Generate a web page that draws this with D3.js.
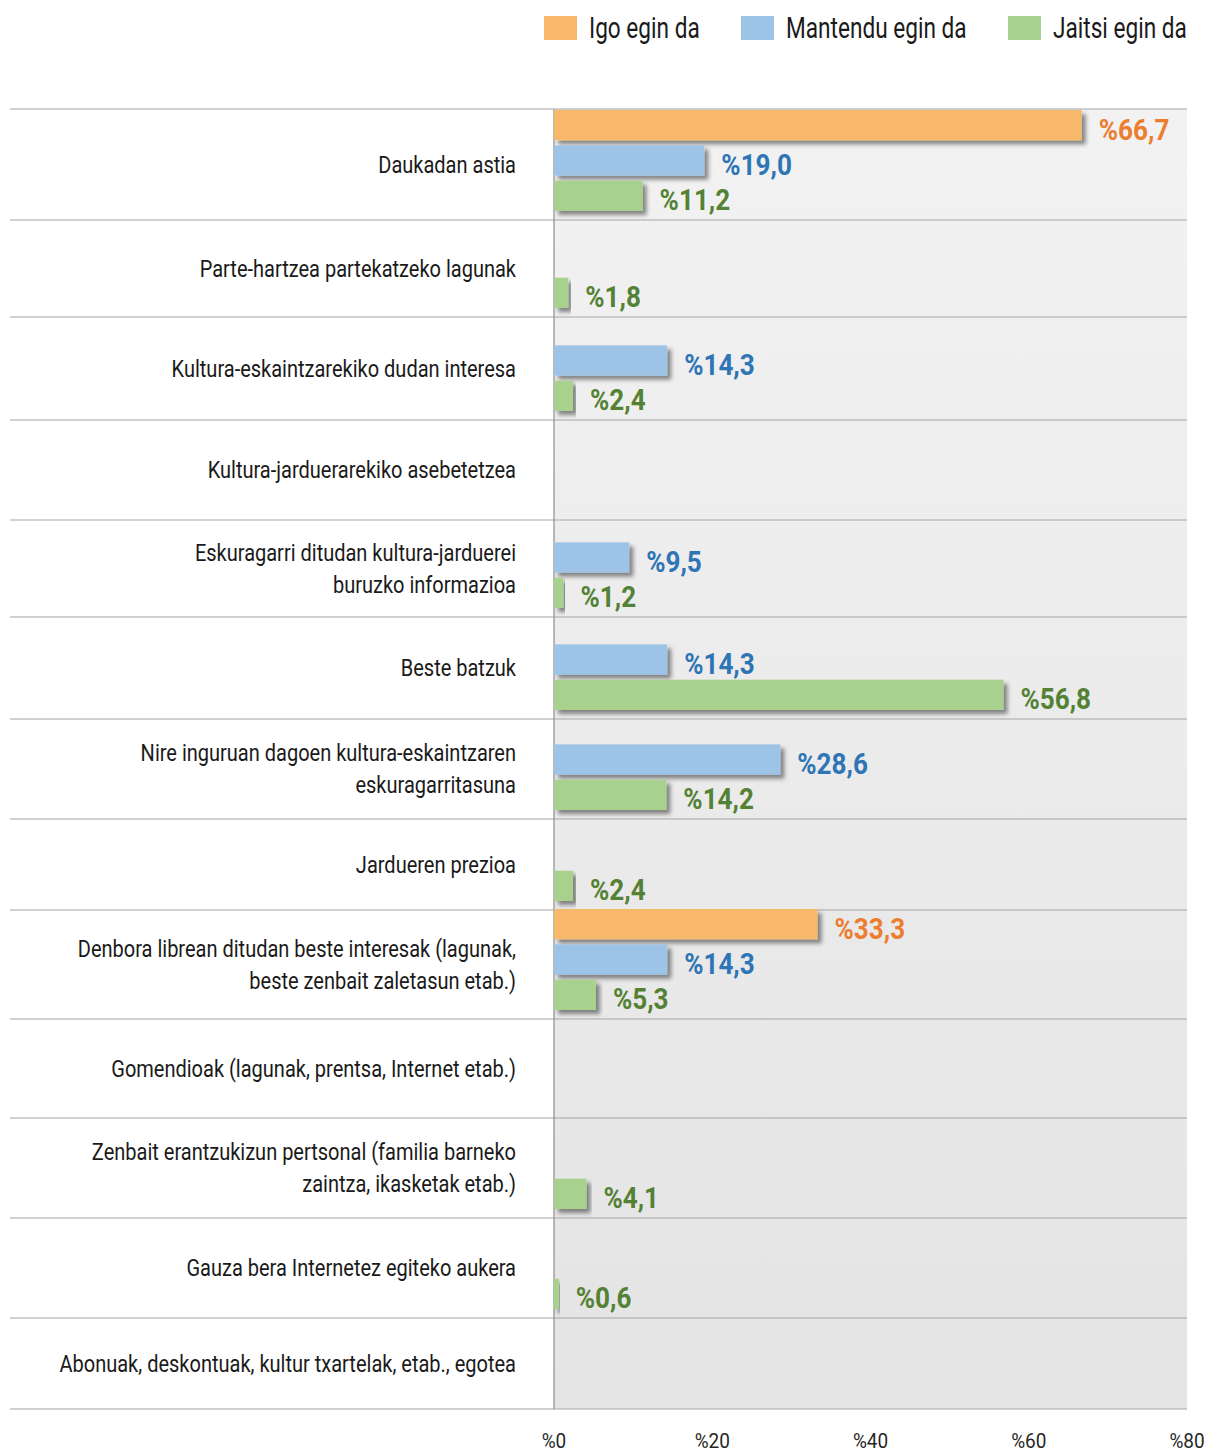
<!DOCTYPE html>
<html>
<head>
<meta charset="utf-8">
<script src="https://cdn.jsdelivr.net/npm/d3@7"></script>
<style>
  body { margin: 0; background: #fff; }
  text { font-family: Roboto, "Liberation Sans", sans-serif; }
</style>
</head>
<body>
<div id="chart"></div>
<script>
// categories (top to bottom)
const categories = [
  ["Daukadan astia"],
  ["Parte-hartzea partekatzeko lagunak"],
  ["Kultura-eskaintzarekiko dudan interesa"],
  ["Kultura-jarduerarekiko asebetetzea"],
  ["Eskuragarri ditudan kultura-jarduerei", "buruzko informazioa"],
  ["Beste batzuk"],
  ["Nire inguruan dagoen kultura-eskaintzaren", "eskuragarritasuna"],
  ["Jardueren prezioa"],
  ["Denbora librean ditudan beste interesak (lagunak,", "beste zenbait zaletasun etab.)"],
  ["Gomendioak (lagunak, prentsa, Internet etab.)"],
  ["Zenbait erantzukizun pertsonal (familia barneko", "zaintza, ikasketak etab.)"],
  ["Gauza bera Internetez egiteko aukera"],
  ["Abonuak, deskontuak, kultur txartelak, etab., egotea"]
];

const seriesNames = ["Igo egin da", "Mantendu egin da", "Jaitsi egin da"];

// null = no bar
const igo      = [66.7, null, null, null, null, null, null, null, 33.3, null, null, null, null];
const mantendu = [19.0, null, 14.3, null, 9.5, 14.3, 28.6, null, 14.3, null, null, null, null];
const jaitsi   = [11.2, 1.8, 2.4, null, 1.2, 56.8, 14.2, 2.4, 5.3, null, 4.1, 0.6, null];

const xTicks = [0, 20, 40, 60, 80];

const barColors = ["#f8b86c", "#9dc3e6", "#a9d18e"];
const labelColors = ["#ed7d31", "#2e75b6", "#548235"];

const W = 1206, H = 1452;
const plotL = 554, plotR = 1187, plotT = 109, plotB = 1409;

// rows in the original are not all the same height (relative weights)
const rowWeights = [111, 97, 103, 100, 97, 102, 100, 91, 109, 99, 100, 100, 91];

// horizontal squeeze to imitate the condensed face of the original
const catScale = 0.87, valScale = 0.9, legScale = 0.78, tickScale = 0.95;

const svg = d3.select("#chart").append("svg")
  .attr("width", W).attr("height", H);

const defs = svg.append("defs");
const grad = defs.append("linearGradient").attr("id", "bg")
  .attr("x1", 0).attr("y1", 0).attr("x2", 0).attr("y2", 1);
grad.append("stop").attr("offset", "0%").attr("stop-color", "#f2f2f2");
grad.append("stop").attr("offset", "100%").attr("stop-color", "#e5e4e5");

const shadow = defs.append("filter").attr("id", "shadow")
  .attr("x", "-5%").attr("y", "-30%").attr("width", "120%").attr("height", "180%");
shadow.append("feDropShadow").attr("dx", 4).attr("dy", 4).attr("stdDeviation", 2)
  .attr("flood-color", "#000").attr("flood-opacity", 0.45);

const x = d3.scaleLinear().domain([0, 80]).range([plotL, plotR]);

// row edges from cumulative weights
const cum = [0, ...d3.cumsum(rowWeights)];
const yEdge = d3.scaleLinear().domain([0, d3.sum(rowWeights)]).range([plotT, plotB]);
const rowTop = i => yEdge(cum[i]);
const rowBottom = i => yEdge(cum[i + 1]);

// bar slots, measured up from the row bottom
const sub = d3.scaleBand().domain(d3.range(3))
  .range([-110, -9]).paddingInner(5 / 35);

// plot background
svg.append("rect")
  .attr("x", plotL).attr("y", plotT)
  .attr("width", plotR - plotL).attr("height", plotB - plotT)
  .attr("fill", "url(#bg)");

// row separators
svg.append("g").selectAll("line")
  .data(cum)
  .join("line")
  .attr("x1", 10).attr("x2", plotR)
  .attr("y1", d => yEdge(d))
  .attr("y2", d => yEdge(d))
  .attr("stroke", "#a6a6a6").attr("stroke-width", 1.2);

// vertical axis line
svg.append("line")
  .attr("x1", plotL).attr("x2", plotL).attr("y1", plotT).attr("y2", plotB)
  .attr("stroke", "#8c8c8c").attr("stroke-width", 1.2);

// category labels
const lineH = 32;
svg.append("g").selectAll("g")
  .data(categories)
  .join("g")
  .attr("transform", (d, i) => `translate(516,${(rowTop(i) + rowBottom(i)) / 2}) scale(${catScale},1)`)
  .append("text")
  .attr("text-anchor", "end")
  .attr("font-size", 23)
  .attr("fill", "#1a1a1a")
  .each(function (lines) {
    const y0 = -(lines.length - 1) * lineH / 2;
    d3.select(this).selectAll("tspan")
      .data(lines)
      .join("tspan")
      .attr("x", 0)
      .attr("y", (d, j) => y0 + j * lineH)
      .attr("dy", "0.36em")
      .text(d => d);
  });

// bars
const allSeries = [igo, mantendu, jaitsi];
const bars = [];
allSeries.forEach((vals, s) => {
  vals.forEach((v, i) => {
    if (v != null) bars.push({ s, i, v });
  });
});

svg.append("g").selectAll("rect")
  .data(bars)
  .join("rect")
  .attr("x", x(0))
  .attr("y", d => rowBottom(d.i) + sub(d.s))
  .attr("width", d => x(d.v) - x(0))
  .attr("height", sub.bandwidth())
  .attr("fill", d => barColors[d.s])
  .attr("filter", "url(#shadow)");

const fmt = v => "%" + v.toFixed(1).replace(".", ",");

svg.append("g").selectAll("text")
  .data(bars)
  .join("text")
  .attr("transform", d => `translate(${x(d.v) + 17},${rowBottom(d.i) + sub(d.s) + sub.bandwidth() / 2}) scale(${valScale},1)`)
  .attr("dy", "0.5em")
  .attr("font-size", 29)
  .attr("font-weight", "bold")
  .attr("fill", d => labelColors[d.s])
  .text(d => fmt(d.v));

// x ticks
svg.append("g").selectAll("text")
  .data(xTicks)
  .join("text")
  .attr("transform", d => `translate(${x(d)},1448) scale(${tickScale},1)`)
  .attr("text-anchor", "middle")
  .attr("font-size", 20)
  .attr("fill", "#262626")
  .text(d => "%" + d);

// legend
const legendX = [544, 741, 1008];
const leg = svg.append("g").selectAll("g")
  .data(seriesNames)
  .join("g")
  .attr("transform", (d, i) => `translate(${legendX[i]},16)`);
leg.append("rect").attr("width", 33).attr("height", 24)
  .attr("fill", (d, i) => barColors[i]);
leg.append("text")
  .attr("transform", `translate(45,12) scale(${legScale},1)`)
  .attr("dy", "0.36em")
  .attr("font-size", 29).attr("fill", "#1a1a1a")
  .text(d => d);
</script>
</body>
</html>
